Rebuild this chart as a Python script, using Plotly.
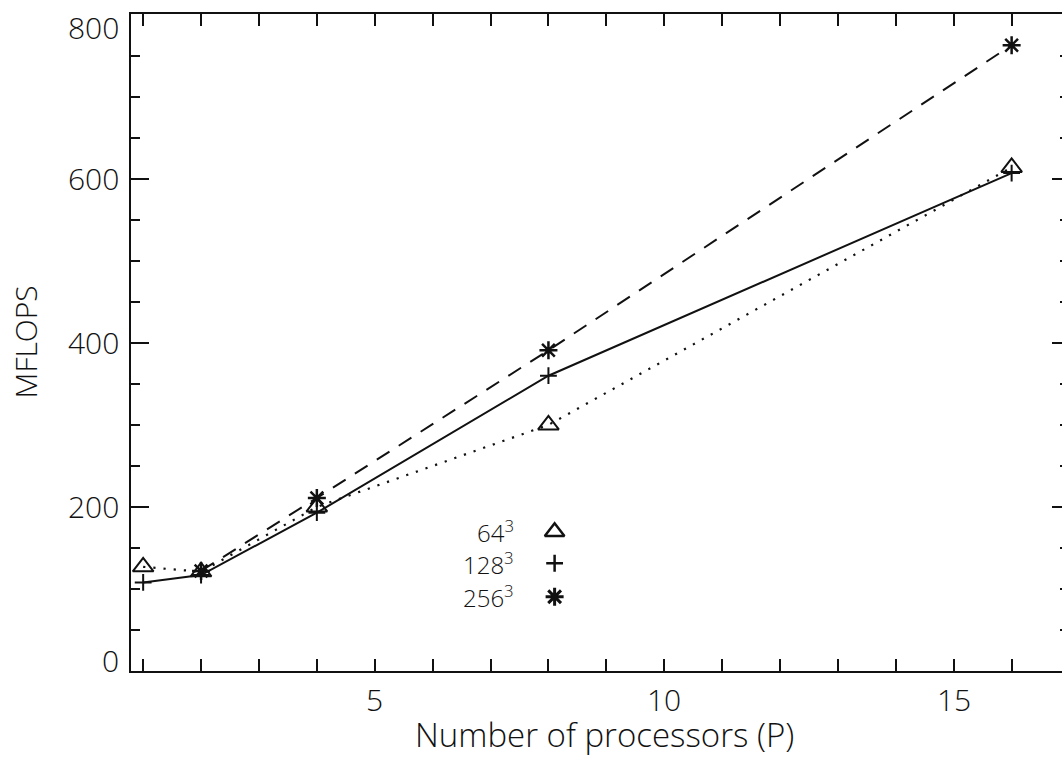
import plotly.graph_objects as go

# Measured throughput (MFLOPS) against processor count for three grid sizes
procs = [1, 2, 4, 8, 16]
mflops_64 = [127, 121, 200, 300, 614]
mflops_128 = [108, 117, 193, 360, 607]
procs_256 = [2, 4, 8, 16]
mflops_256 = [122, 211, 391, 763]

series_labels = ["64<sup>3</sup>", "128<sup>3</sup>", "256<sup>3</sup>"]
y_tick_values = [0, 200, 400, 600, 800]
x_tick_values = [5, 10, 15]
x_title = "Number of processors (P)"
y_title = "MFLOPS"

FONT = "Open Sans"
INK = "#111111"

fig = go.Figure()

# 64^3 : dotted line, open triangles
fig.add_trace(go.Scatter(
    x=procs, y=mflops_64, mode="lines+markers",
    line=dict(color=INK, width=2.2, dash="2.2px,8px"),
    marker=dict(symbol="triangle-up-open", size=18, color=INK,
                line=dict(width=2, color=INK)),
    showlegend=False,
))
# 128^3 : solid line, plus signs
fig.add_trace(go.Scatter(
    x=procs, y=mflops_128, mode="lines+markers",
    line=dict(color=INK, width=2),
    marker=dict(symbol="cross-thin-open", size=12, color=INK,
                line=dict(width=2, color=INK)),
    showlegend=False,
))
# 256^3 : dashed line, asterisks (on the mirrored right-hand y axis)
fig.add_trace(go.Scatter(
    x=procs_256, y=mflops_256, mode="lines+markers",
    line=dict(color=INK, width=2, dash="15px,11px"),
    marker=dict(symbol="asterisk-open", size=15, color=INK,
                line=dict(width=2.5, color=INK)),
    showlegend=False, yaxis="y2",
))

# In-plot key: symbols placed in fractional plot coordinates
key_symbols = [("triangle-up-open", 17, 2.5), ("cross-thin-open", 12, 2.5),
               ("asterisk-open", 15, 3)]
key_x = 0.455
key_y = [0.212, 0.164, 0.113]
for (sym, size, lw), ky in zip(key_symbols, key_y):
    fig.add_trace(go.Scatter(
        x=[key_x], y=[ky], mode="markers", xaxis="x2", yaxis="y3",
        marker=dict(symbol=sym, size=size, color=INK, line=dict(width=lw, color=INK)),
        showlegend=False, hoverinfo="skip",
    ))
for label, ky in zip(series_labels, key_y):
    fig.add_annotation(
        x=0.413, y=ky, xref="paper", yref="paper", xanchor="right", yanchor="middle",
        text=label, showarrow=False, font=dict(family=FONT, size=24, color=INK, weight=300),
    )

tick_font = dict(family=FONT, size=30, color=INK, weight=300)

# y tick labels; the end labels are nudged inside the frame
for i, v in enumerate(y_tick_values):
    shift = 0
    if i == 0:
        shift = 11
    elif i == len(y_tick_values) - 1:
        shift = -13
    fig.add_annotation(
        x=0, y=v, xref="paper", yref="y", xanchor="right", yanchor="middle",
        xshift=-10, yshift=shift, text=str(v), showarrow=False, font=tick_font,
    )

# x tick labels below the frame
for v in x_tick_values:
    fig.add_annotation(
        x=v, y=0, xref="x", yref="paper", xanchor="center", yanchor="middle",
        yshift=-28, text=str(v), showarrow=False, font=tick_font,
    )

# axis titles
fig.add_annotation(
    x=0.509, y=0, xref="paper", yref="paper", xanchor="center", yanchor="middle",
    yshift=-63, text=x_title, showarrow=False,
    font=dict(family=FONT, size=33, color=INK, weight=300),
)
fig.add_annotation(
    x=0, y=0.5, xref="paper", yref="paper", xanchor="center", yanchor="middle",
    xshift=-106, textangle=-90, text=y_title, showarrow=False,
    font=dict(family=FONT, size=30, color=INK, weight=300),
)

axis_common = dict(showgrid=False, zeroline=False, linecolor=INK, linewidth=1.5,
                   tickcolor=INK, tickwidth=1.5)

fig.update_layout(
    width=1062, height=758,
    margin=dict(l=131, r=0, t=14, b=87),
    paper_bgcolor="white", plot_bgcolor="white",
    font=dict(family=FONT, size=30, color=INK, weight=300),
    xaxis=dict(
        range=[0.79, 16.87], showline=True, mirror="allticks",
        ticks="inside", ticklen=12, tick0=0, dtick=5, showticklabels=False,
        minor=dict(ticks="inside", ticklen=6, dtick=1, tickcolor=INK, tickwidth=1.5),
        **axis_common,
    ),
    yaxis=dict(
        range=[0, 801], showline=True, mirror=False,
        ticks="inside", ticklen=18, tick0=0, dtick=200, showticklabels=False,
        minor=dict(ticks="inside", ticklen=9, dtick=50, tickcolor=INK, tickwidth=1.5),
        **axis_common,
    ),
    yaxis2=dict(
        overlaying="y", side="right", matches="y", showline=False,
        ticks="inside", ticklen=10, tick0=0, dtick=200, showticklabels=False,
        minor=dict(ticks="inside", ticklen=2, dtick=50, tickcolor=INK, tickwidth=1.5),
        showgrid=False, zeroline=False, tickcolor=INK, tickwidth=1.5,
    ),
    xaxis2=dict(overlaying="x", range=[0, 1], visible=False),
    yaxis3=dict(overlaying="y", range=[0, 1], visible=False),
)

fig.write_html("out.html")
